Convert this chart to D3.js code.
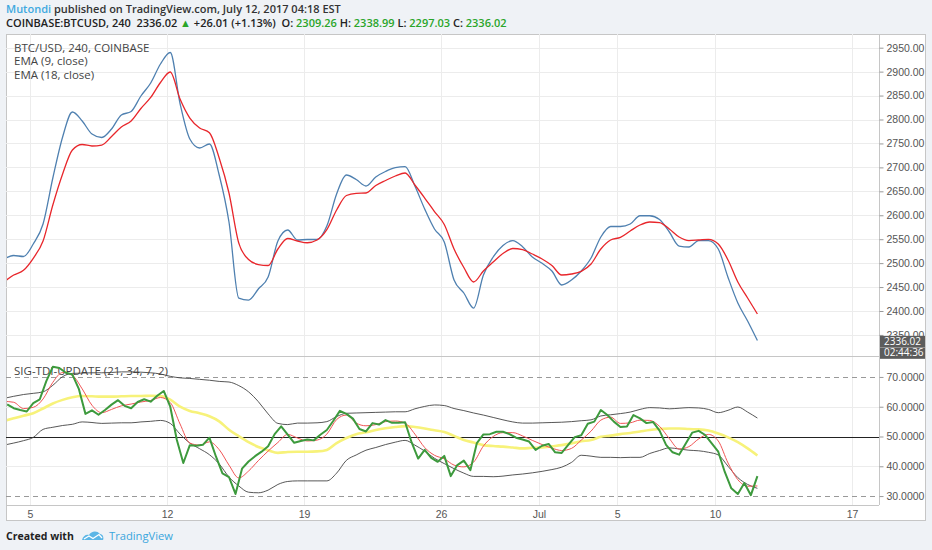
<!DOCTYPE html>
<html>
<head>
<meta charset="utf-8">
<style>
  body { margin: 0; background: #eff2f6; }
  svg { display: block; }
  text { font-family: "Open Sans", "Liberation Sans", sans-serif; }
  .axis text { font-family: "Liberation Sans", Arial, sans-serif; font-size: 10.5px; fill: #555; }
  .axis line { stroke: #999; }
</style>
</head>
<body>
<svg id="chart" width="932" height="550"></svg>
<script src="https://cdnjs.cloudflare.com/ajax/libs/d3/7.8.5/d3.min.js"></script>
<script>
// BTC/USD 4h, COINBASE.
// top panel + smooth TDI lines: one value every 12h from Jun 3 16:00
const start12h = Date.UTC(2017, 5, 3, 16);
// TDI price line: one value every 8h from Jun 3 20:00
const start8h = Date.UTC(2017, 5, 3, 20);

const ema9 = [
  2508.6, 2515.9, 2513.8, 2539.9, 2581.7, 2677.8, 2763.5, 2815.7, 2796.9, 2769.7,
  2762.4, 2780.2, 2809.4, 2816.7, 2849.1, 2876.3, 2915.9, 2940.0, 2833.4, 2759.3,
  2740.5, 2748.8, 2684.1, 2585.9, 2427.1, 2422.9, 2445.9, 2471.0, 2546.2, 2569.2,
  2548.3, 2549.3, 2549.3, 2577.5, 2644.4, 2684.1, 2674.7, 2661.1, 2679.9, 2691.4,
  2699.3, 2701.4, 2661.1, 2613.0, 2571.3, 2544.1, 2464.7, 2437.6, 2406.2, 2475.2,
  2512.8, 2536.8, 2547.2, 2534.3, 2512.8, 2499.6, 2483.5, 2454.3, 2464.7, 2483.5,
  2510.7, 2554.6, 2576.5, 2576.5, 2581.7, 2599.0, 2599.0, 2591.1, 2565.0, 2535.7,
  2533.7, 2547.2, 2547.2, 2529.5, 2470.0, 2416.7, 2379.1, 2338.3
];
const ema18 = [
  2460.6, 2475.2, 2485.0, 2510.1, 2546.2, 2621.4, 2686.2, 2736.3, 2747.8, 2744.7,
  2746.7, 2764.5, 2784.3, 2796.9, 2823.0, 2846.0, 2877.3, 2899.2, 2842.8, 2803.1,
  2782.3, 2772.4, 2719.6, 2646.5, 2542.0, 2507.6, 2497.1, 2495.0, 2529.5, 2551.4,
  2546.2, 2542.6, 2548.3, 2569.8, 2611.0, 2641.3, 2645.8, 2646.5, 2662.1, 2672.6,
  2682.0, 2688.3, 2663.2, 2636.0, 2607.8, 2580.7, 2529.5, 2490.8, 2460.6, 2483.5,
  2502.3, 2520.1, 2530.5, 2528.4, 2519.0, 2508.6, 2495.0, 2475.2, 2477.3, 2482.9,
  2498.1, 2529.5, 2548.3, 2553.9, 2567.1, 2579.6, 2585.9, 2584.8, 2571.3, 2554.6,
  2547.2, 2548.3, 2549.7, 2539.9, 2506.5, 2460.6, 2427.1, 2393.7
];

// SIG-TDI (21, 34, 7, 2)
const tdiPrice = [
  60.8, 59.5, 58.9, 58.4, 61.2, 62.5, 68.6, 73.4, 73.0, 71.4,
  70.8, 65.9, 57.6, 58.8, 57.3, 58.9, 60.7, 62.2, 60.3, 59.5,
  61.6, 62.5, 61.7, 63.7, 65.3, 60.0, 48.9, 41.1, 47.1, 46.9,
  47.2, 49.6, 43.3, 37.6, 36.4, 30.7, 39.2, 41.6, 43.4, 44.9,
  46.7, 50.8, 53.4, 50.6, 47.9, 48.5, 49.0, 48.7, 50.6, 52.2,
  55.3, 58.6, 57.6, 56.0, 52.5, 51.7, 54.5, 54.0, 55.5, 54.6,
  54.6, 54.8, 48.0, 42.6, 45.5, 42.8, 41.5, 43.5, 36.7, 40.4,
  41.9, 38.7, 47.8, 50.7, 50.8, 51.6, 51.6, 50.8, 49.6, 49.0,
  48.3, 45.5, 46.9, 47.5, 44.7, 44.5, 47.2, 49.8, 50.4, 54.3,
  55.0, 58.9, 57.2, 55.0, 53.2, 53.4, 57.2, 56.1, 54.5, 54.9,
  52.0, 47.2, 44.7, 43.9, 47.6, 51.3, 51.9, 50.5, 47.7, 44.9,
  38.1, 32.6, 30.7, 34.4, 30.3, 36.7
];
const tdiSignal = [
  61.8, 61.5, 59.4, 59.8, 62.6, 68.2, 71.5, 70.5, 66.0, 60.5,
  58.0, 59.1, 60.3, 60.9, 61.6, 62.1, 63.1, 61.4, 54.2, 47.8,
  47.1, 48.2, 45.6, 40.4, 36.1, 38.4, 41.9, 45.1, 48.0, 50.7,
  49.5, 48.5, 48.8, 50.8, 55.7, 57.2, 54.5, 53.6, 54.0, 55.0,
  55.2, 54.5, 50.8, 46.3, 43.7, 42.5, 40.4, 39.8, 41.4, 46.8,
  50.0, 51.3, 51.3, 50.2, 48.7, 47.3, 46.1, 45.3, 46.0, 48.8,
  51.8, 55.5, 56.5, 54.4, 54.6, 55.5, 55.4, 53.4, 49.3, 45.8,
  46.6, 49.2, 50.7, 48.5, 41.1, 35.5, 33.3, 33.4
];
const tdiBase = [
  55.2, 56.1, 57.0, 57.8, 59.4, 61.1, 62.3, 63.2, 63.6, 63.5,
  63.4, 63.4, 63.5, 63.6, 63.6, 63.7, 63.6, 62.4, 60.0, 58.6,
  57.8, 56.8, 55.1, 52.3, 50.1, 48.1, 46.5, 45.4, 44.5, 44.8,
  44.9, 44.9, 45.0, 45.5, 47.8, 49.5, 50.8, 51.4, 52.2, 52.8,
  53.2, 53.5, 53.2, 52.7, 52.1, 51.5, 50.2, 48.8, 48.0, 47.1,
  46.8, 46.6, 46.3, 46.0, 46.2, 46.3, 46.7, 47.1, 47.7, 48.4,
  48.8, 49.9, 50.3, 50.8, 51.2, 51.7, 52.2, 52.5, 52.7, 52.7,
  52.5, 52.4, 52.0, 51.0, 49.7, 48.1, 46.0, 43.6
];
const tdiUpper = [
  62.8, 63.5, 64.1, 64.5, 65.0, 67.2, 70.1, 71.2, 71.3, 71.4,
  71.4, 71.5, 71.7, 71.7, 71.6, 71.4, 71.0, 70.2, 69.7, 69.5,
  69.2, 68.9, 68.5, 68.3, 67.1, 65.0, 61.7, 57.6, 54.4, 54.0,
  54.5, 54.5, 54.6, 55.0, 56.7, 57.8, 57.9, 58.0, 58.1, 58.2,
  58.3, 58.3, 59.3, 60.1, 60.6, 60.4, 59.4, 58.7, 57.9, 57.2,
  56.4, 55.6, 54.9, 54.5, 54.5, 54.6, 54.7, 54.8, 55.0, 55.3,
  55.6, 56.9, 57.3, 57.7, 58.2, 59.1, 59.7, 59.6, 59.3, 59.5,
  59.7, 59.6, 59.1, 58.0, 58.8, 59.9, 58.2, 56.2
];
const tdiLower = [
  47.1, 47.8, 48.6, 49.7, 52.4, 53.1, 53.7, 54.1, 54.9, 54.7,
  54.4, 54.5, 54.6, 54.6, 54.9, 55.1, 55.4, 54.4, 50.8, 47.8,
  45.9, 43.9, 40.8, 36.4, 33.4, 31.3, 31.1, 32.0, 33.9, 34.9,
  35.1, 35.1, 35.1, 35.1, 37.7, 42.0, 43.8, 45.4, 46.3, 47.3,
  48.1, 48.7, 47.1, 45.1, 42.7, 40.9, 39.2, 37.7, 36.6, 36.6,
  36.5, 36.7, 37.1, 37.4, 37.8, 38.3, 38.9, 39.7, 41.3, 43.7,
  43.4, 43.0, 43.0, 42.9, 43.0, 43.0, 44.3, 45.3, 46.2, 45.8,
  45.4, 45.2, 44.7, 43.8, 40.0, 36.2, 33.9, 32.6
];

const priceTicks = [2350, 2400, 2450, 2500, 2550, 2600, 2650, 2700, 2750, 2800, 2850, 2900, 2950];
const tdiTicks = [30, 40, 50, 60, 70];
const dateTicks = ["2017-06-05", "2017-06-12", "2017-06-19", "2017-06-26", "2017-07-01", "2017-07-05", "2017-07-10", "2017-07-17"];
const dateLabels = ["5", "12", "19", "26", "Jul", "5", "10", "17"];

const lastClose = 2336.02;
const countdown = "02:44:36";

const headerTop = [["Mutondi", "#3fa9e0"], [" published on TradingView.com, July 12, 2017 04:18 EST", "#333"]];
const headerQuote = [
  ["COINBASE:BTCUSD, 240  2336.02 ", "#222"], ["\u25B2", "#2aa52a"], [" +26.01 (+1.13%)  O: ", "#222"],
  ["2309.26", "#2aa52a"], [" H: ", "#222"], ["2338.99", "#2aa52a"], [" L: ", "#222"],
  ["2297.03", "#2aa52a"], [" C: ", "#222"], ["2336.02", "#2aa52a"]
];
const legendTop = ["BTC/USD, 240, COINBASE", "EMA (9, close)", "EMA (18, close)"];
const legendTdi = "SIG-TDI-UPDATE (21, 34, 7, 2)";

// ---- layout
const L = 6, R = 879, OUTER = 925, TOP = 34, SPLIT = 356.5, BOT = 505, FOOT = 520;

const svg = d3.select("#chart");

const x = d3.scaleUtc()
  .domain([new Date(Date.UTC(2017, 5, 5)), new Date(Date.UTC(2017, 6, 17))])
  .range([30, 852]);
const yPrice = d3.scaleLinear().domain([2306, 2978.6]).range([356, TOP]);
const yTdi = d3.scaleLinear().domain([27, 76.7]).range([BOT, 357]);

const timeAt = (start, hours) => (d, i) => x(new Date(start + i * hours * 3600e3));

// chart box
svg.append("rect")
  .attr("x", L + 0.5).attr("y", TOP + 0.5)
  .attr("width", OUTER - L).attr("height", FOOT - TOP)
  .attr("fill", "#fff").attr("stroke", "#c6c6c6");

const defs = svg.append("defs");
defs.append("clipPath").attr("id", "clipTop").append("rect")
  .attr("x", L + 1).attr("y", TOP + 1).attr("width", R - L - 1).attr("height", SPLIT - TOP - 1);
defs.append("clipPath").attr("id", "clipTdi").append("rect")
  .attr("x", L + 1).attr("y", SPLIT + 1).attr("width", R - L - 1).attr("height", BOT - SPLIT - 1);

// grid
const grid = svg.append("g").attr("stroke", "#ececec").attr("shape-rendering", "crispEdges");
grid.selectAll(".vx").data(dateTicks).join("line")
  .attr("x1", d => Math.round(x(new Date(d)))).attr("x2", d => Math.round(x(new Date(d))))
  .attr("y1", TOP).attr("y2", BOT);
grid.selectAll(".hp").data(priceTicks).join("line")
  .attr("x1", L).attr("x2", R)
  .attr("y1", d => Math.round(yPrice(d))).attr("y2", d => Math.round(yPrice(d)));
grid.selectAll(".ht").data([40, 60]).join("line")
  .attr("x1", L).attr("x2", R)
  .attr("y1", d => Math.round(yTdi(d))).attr("y2", d => Math.round(yTdi(d)));

// TDI reference levels
svg.selectAll(".lvl").data([30, 70]).join("line")
  .attr("x1", L).attr("x2", R)
  .attr("y1", d => Math.round(yTdi(d)) + 0.5).attr("y2", d => Math.round(yTdi(d)) + 0.5)
  .attr("stroke", "#999").attr("stroke-dasharray", "5,4");
svg.append("line")
  .attr("x1", L).attr("x2", R)
  .attr("y1", Math.round(yTdi(50)) + 0.5).attr("y2", Math.round(yTdi(50)) + 0.5)
  .attr("stroke", "#222").attr("stroke-width", 1.2);

// panel borders
svg.append("line").attr("x1", L).attr("x2", OUTER).attr("y1", SPLIT).attr("y2", SPLIT)
  .attr("stroke", "#c6c6c6");
svg.append("line").attr("x1", L).attr("x2", R).attr("y1", BOT + 0.5).attr("y2", BOT + 0.5)
  .attr("stroke", "#c6c6c6");
svg.append("line").attr("x1", R + 0.5).attr("x2", R + 0.5).attr("y1", TOP).attr("y2", BOT)
  .attr("stroke", "#c6c6c6");

// legends (drawn under the lines)
svg.append("g").selectAll("text").data(legendTop).join("text")
  .attr("x", 14).attr("y", (d, i) => 52 + i * 13.3)
  .attr("font-size", 11.5).attr("fill", "#444").text(d => d);
svg.append("text").attr("x", 14).attr("y", 375)
  .attr("font-size", 11.5).attr("fill", "#444").text(legendTdi);

// price panel
const gTop = svg.append("g").attr("clip-path", "url(#clipTop)").attr("fill", "none");
const priceLine = d3.line().x(timeAt(start12h, 12)).y(d => yPrice(d)).curve(d3.curveMonotoneX);
gTop.append("path").datum(ema9).attr("d", priceLine).attr("stroke", "#4f80b0").attr("stroke-width", 1.3);
gTop.append("path").datum(ema18).attr("d", priceLine).attr("stroke", "#e8262b").attr("stroke-width", 1.3);

// TDI panel
const gTdi = svg.append("g").attr("clip-path", "url(#clipTdi)").attr("fill", "none");
const tdiLine12 = d3.line().x(timeAt(start12h, 12)).y(d => yTdi(d)).curve(d3.curveMonotoneX);
const tdiLine8 = d3.line().x(timeAt(start8h, 8)).y(d => yTdi(d));
gTdi.append("path").datum(tdiUpper).attr("d", tdiLine12).attr("stroke", "#444").attr("stroke-width", 0.9);
gTdi.append("path").datum(tdiLower).attr("d", tdiLine12).attr("stroke", "#444").attr("stroke-width", 0.9);
gTdi.append("path").datum(tdiBase).attr("d", tdiLine12).attr("stroke", "#f7f27a").attr("stroke-width", 2.6);
gTdi.append("path").datum(tdiSignal).attr("d", tdiLine12).attr("stroke", "#f05555").attr("stroke-width", 1);
gTdi.append("path").datum(tdiPrice).attr("d", tdiLine8).attr("stroke", "#3d9a3d").attr("stroke-width", 2)
  .attr("stroke-linejoin", "round");

// axes
const priceAxis = svg.append("g").attr("class", "axis").attr("transform", `translate(${R + 0.5},0)`)
  .call(d3.axisRight(yPrice).tickValues(priceTicks).tickSize(4).tickPadding(3).tickFormat(d3.format(".2f")));
priceAxis.select(".domain").remove();

const tdiAxis = svg.append("g").attr("class", "axis").attr("transform", `translate(${R + 0.5},0)`)
  .call(d3.axisRight(yTdi).tickValues(tdiTicks).tickSize(4).tickPadding(3).tickFormat(d3.format(".4f")));
tdiAxis.select(".domain").remove();

const timeAxis = svg.append("g").attr("class", "axis").attr("transform", `translate(0,${BOT})`)
  .call(d3.axisBottom(x).tickValues(dateTicks.map(d => new Date(d))).tickSize(0).tickPadding(6)
    .tickFormat((d, i) => dateLabels[i]));
timeAxis.select(".domain").remove();

// last price + countdown tags
const yLast = yPrice(lastClose);
const tags = [[lastClose.toFixed(2), yLast - 5.8], [countdown, yLast + 5.8]];
svg.append("g").selectAll("g").data(tags).join("g").each(function (d) {
  const g = d3.select(this);
  g.append("rect").attr("x", R + 1).attr("y", d[1]).attr("width", OUTER - R - 1).attr("height", 11.4)
    .attr("fill", "#5c5c5c");
  g.append("text").attr("x", R + 5).attr("y", d[1] + 9).attr("fill", "#fff")
    .attr("font-family", "Liberation Sans, Arial, sans-serif").attr("font-size", 10).text(d[0]);
});

// header
const h1 = svg.append("text").attr("x", 6).attr("y", 13).attr("font-size", 11).attr("font-weight", 600);
h1.selectAll("tspan").data(headerTop).join("tspan").attr("fill", d => d[1]).text(d => d[0]);
const h2 = svg.append("text").attr("x", 6).attr("y", 27).attr("font-size", 11).attr("font-weight", 600)
  .attr("xml:space", "preserve").style("white-space", "pre");
h2.selectAll("tspan").data(headerQuote).join("tspan").attr("fill", d => d[1]).text(d => d[0]);

// footer
svg.append("text").attr("x", 6).attr("y", 540).attr("font-size", 10.5).attr("font-weight", 700)
  .attr("fill", "#222").text("Created with");
const logo = svg.append("g").attr("transform", "translate(82,530)");
logo.append("path").attr("d", "M0,10 C1,6 4,4 7,5 C9,1 15,0 18,4 C21,4 22,8 21,10 Z").attr("fill", "#5cb6e6");
logo.append("path").attr("d", "M2,9 L7,6 L11,8.5 L17,4.5 L20,8").attr("fill", "none")
  .attr("stroke", "#fff").attr("stroke-width", 1.3);
svg.append("text").attr("x", 109).attr("y", 540).attr("font-size", 11.2).attr("fill", "#3aa6dd").text("TradingView");
</script>
</body>
</html>
